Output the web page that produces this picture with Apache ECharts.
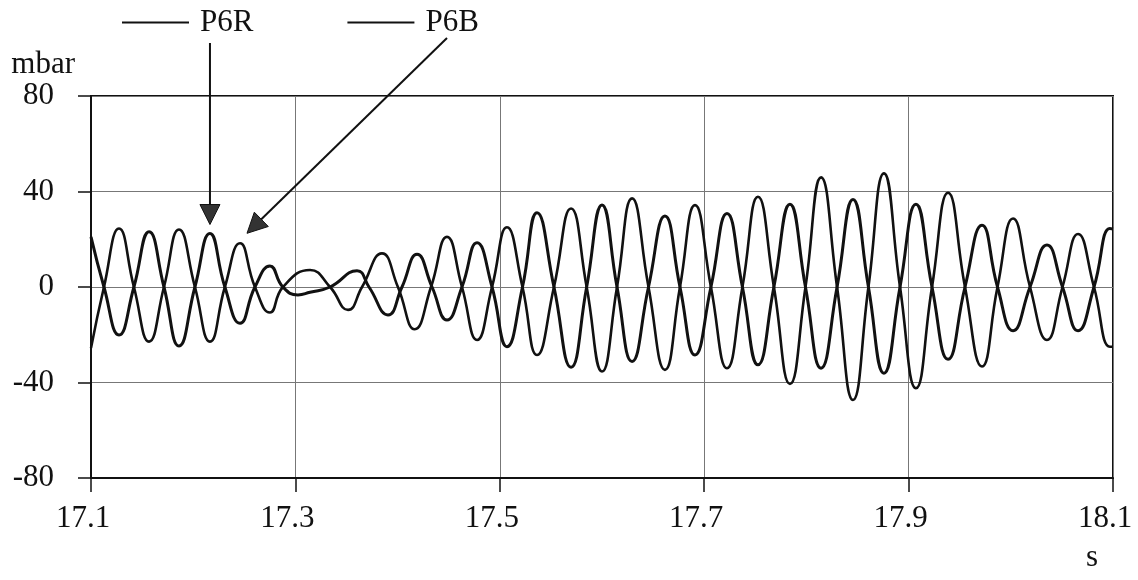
<!DOCTYPE html>
<html>
<head>
<meta charset="utf-8">
<script src="https://cdn.jsdelivr.net/npm/echarts@6/dist/echarts.min.js"></script>
<style>
  html, body { margin: 0; padding: 0; background: #fff; }
  #main { width: 1138px; height: 580px; }
</style>
</head>
<body>
<div id="main"></div>
<script>
// time (s) and pressure (mbar): peaks, troughs and zero crossings
var p6rT = [17.100, 17.1127, 17.1274, 17.142, 17.1568, 17.1714, 17.1861, 17.2017, 17.2164, 17.231,
            17.2458, 17.2604, 17.2751, 17.2878, 17.3025, 17.3143, 17.3339, 17.3603, 17.372, 17.3906,
            17.4043, 17.419, 17.4337, 17.4483, 17.463, 17.4777, 17.4924, 17.507, 17.5222, 17.5364,
            17.553, 17.5697, 17.585, 17.600, 17.6147, 17.6294, 17.6455, 17.6616, 17.6763, 17.691,
            17.7066, 17.7223, 17.7374, 17.7526, 17.7682, 17.7839, 17.7991, 17.8143, 17.830, 17.8456,
            17.8607, 17.8759, 17.8916, 17.9072, 17.9229, 17.9386, 17.9552, 17.9718, 17.987, 18.0022,
            18.0188, 18.0354, 18.0506, 18.0658, 18.0814, 18.097, 18.100];
var p6rV = [21, 0, -20.1, 0, 23.1, 0, -24.7, 0, 22.4, 0,
            -15.2, 0, 8.8, 0, -3.3, -2.2, 0, 6.8, 0, -11.7,
            0, 13.7, 0, -13.8, 0, 18.5, 0, -25, 0, 31.1,
            0, -33.6, 0, 34.3, 0, -31.2, 0, 29.7, 0, -28.5,
            0, 30.8, 0, -32.6, 0, 34.7, 0, -34, 0, 36.7,
            0, -36.1, 0, 34.7, 0, -30.3, 0, 25.9, 0, -18.3,
            0, 17.6, 0, -18.3, 0, 24.5, 24.3];

var p6bT = [17.100, 17.1127, 17.1274, 17.142, 17.1568, 17.1714, 17.1861, 17.2017, 17.2164, 17.231,
            17.2458, 17.2604, 17.2751, 17.2878, 17.3143, 17.3339, 17.3515, 17.3652, 17.3847, 17.4003,
            17.4168, 17.4327, 17.4483, 17.463, 17.4777, 17.4924, 17.507, 17.5222, 17.5364, 17.553,
            17.5697, 17.585, 17.600, 17.6147, 17.6294, 17.6455, 17.6616, 17.6763, 17.691, 17.7066,
            17.7223, 17.7374, 17.7526, 17.7682, 17.7839, 17.7991, 17.8143, 17.830, 17.8456, 17.8607,
            17.8759, 17.8916, 17.9072, 17.9229, 17.9386, 17.9552, 17.9718, 17.987, 18.0022, 18.0188,
            18.0354, 18.0506, 18.0658, 18.0814, 18.097, 18.100];
var p6bV = [-25.6, 0, 24.5, 0, -22.9, 0, 24.1, 0, -22.9, 0,
            18.3, 0, -10.7, 0, 7.1, 0, -9.6, 0, 14.1, 0,
            -17.7, 0, 21, 0, -22.2, 0, 25, 0, -28.5, 0,
            32.9, 0, -35.4, 0, 37.1, 0, -34.7, 0, 34.3, 0,
            -34, 0, 37.8, 0, -40.6, 0, 45.9, 0, -47.3, 0,
            47.6, 0, -42.4, 0, 39.5, 0, -33.3, 0, 28.7, 0,
            -22.2, 0, 22.2, 0, -25, -25];

var seriesNames = ['P6R', 'P6B'];
var xTicks = [17.1, 17.3, 17.5, 17.7, 17.9, 18.1];
var yTicks = [-80, -40, 0, 40, 80];
// the peaks the two arrows point at
var arrowTargets = [[17.2164, 22.4], [17.2458, 18.3]];

var FONT = "'Liberation Serif', 'Times New Roman', serif";

function pairs(t, v) {
    return t.map(function (x, i) { return [x, v[i]]; });
}

var chart = echarts.init(document.getElementById('main'));

chart.setOption({
    animation: false,
    backgroundColor: '#fff',
    textStyle: { fontFamily: FONT, color: '#111' },
    legend: {
        data: seriesNames,
        left: 122,
        top: 7,
        padding: 0,
        icon: 'rect',
        itemWidth: 67,
        itemHeight: 2,
        itemGap: 94,
        textStyle: { fontFamily: FONT, fontSize: 31, color: '#111', padding: [0, 0, 0, 6] }
    },
    grid: {
        left: 91, right: 25, top: 96, bottom: 102,
        show: true, borderColor: '#111', borderWidth: 2
    },
    xAxis: {
        type: 'value',
        min: xTicks[0],
        max: xTicks[xTicks.length - 1],
        interval: 0.2,
        name: 's',
        nameLocation: 'end',
        nameGap: -21,
        nameTextStyle: { fontFamily: FONT, fontSize: 31, color: '#111', align: 'center', verticalAlign: 'top', padding: [64, 0, 0, 0] },
        axisLine: { onZero: false, lineStyle: { color: '#111', width: 2 } },
        axisTick: { inside: false, length: 14, lineStyle: { color: '#111', width: 1.5 } },
        axisLabel: {
            fontFamily: FONT, fontSize: 31, color: '#111', margin: 25,
            padding: [0, 16, 0, 0],
            formatter: function (v) { return v.toFixed(1); }
        },
        splitLine: { show: true, lineStyle: { color: '#777', width: 1 } }
    },
    yAxis: {
        type: 'value',
        min: yTicks[0],
        max: yTicks[yTicks.length - 1],
        interval: 40,
        name: 'mbar',
        nameLocation: 'end',
        nameGap: 10,
        nameTextStyle: { fontFamily: FONT, fontSize: 31, color: '#111', align: 'right', padding: [0, 16, 0, 0] },
        axisLine: { show: true, onZero: false, lineStyle: { color: '#111', width: 2 } },
        axisTick: { show: true, inside: false, length: 13, lineStyle: { color: '#111', width: 1.5 } },
        axisLabel: { fontFamily: FONT, fontSize: 31, color: '#111', margin: 37 },
        splitLine: { show: true, lineStyle: { color: '#777', width: 1 } }
    },
    series: [
        {
            name: seriesNames[0],
            type: 'line',
            data: pairs(p6rT, p6rV),
            showSymbol: false,
            smooth: 0.5,
            lineStyle: { color: '#111', width: 3 },
            itemStyle: { color: '#111' }
        },
        {
            name: seriesNames[1],
            type: 'line',
            data: pairs(p6bT, p6bV),
            showSymbol: false,
            smooth: 0.5,
            lineStyle: { color: '#111', width: 2.6 },
            itemStyle: { color: '#111' }
        }
    ]
});

// arrows from the legend labels down to the peaks
function arrow(from, tip) {
    var dx = tip[0] - from[0], dy = tip[1] - from[1];
    var len = Math.sqrt(dx * dx + dy * dy);
    var ux = dx / len, uy = dy / len;
    var hl = 20, hw = 10;
    var bx = tip[0] - ux * hl, by = tip[1] - uy * hl;
    return [
        { type: 'line', shape: { x1: from[0], y1: from[1], x2: bx, y2: by }, style: { stroke: '#111', lineWidth: 2 }, z: 100 },
        { type: 'polygon', shape: { points: [tip, [bx - uy * hw, by + ux * hw], [bx + uy * hw, by - ux * hw]] }, style: { fill: '#333', stroke: '#111', lineWidth: 1 }, z: 100 }
    ];
}

var pR = chart.convertToPixel({ gridIndex: 0 }, arrowTargets[0]);
var pB = chart.convertToPixel({ gridIndex: 0 }, arrowTargets[1]);
var tipR = [pR[0], pR[1] - 9];
var tipB = [pB[0] + 7, pB[1] - 10];

chart.setOption({
    graphic: arrow([tipR[0], 43], tipR).concat(arrow([447, 38], tipB))
});
</script>
</body>
</html>
